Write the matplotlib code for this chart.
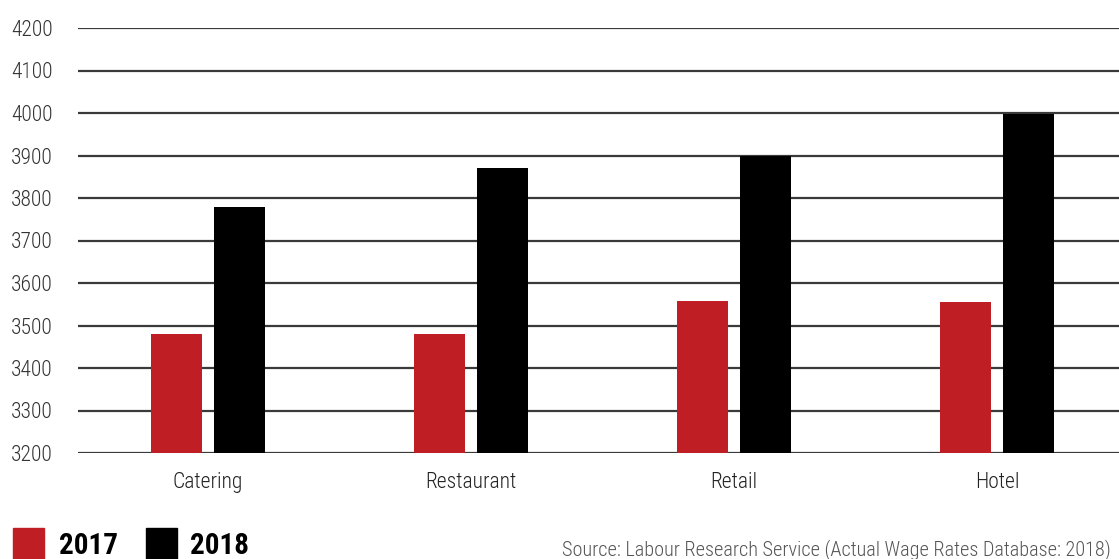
import matplotlib.pyplot as plt
import numpy as np
from matplotlib.patches import Rectangle

categories = ['Catering', 'Restaurant', 'Retail', 'Hotel']
wages_2017 = [3480, 3480, 3558, 3555]
wages_2018 = [3780, 3870, 3898, 3998]
years = ['2017', '2018']
colors = ['#be1e24', '#000000']
yticks = list(range(3200, 4201, 100))

plt.rcParams['font.family'] = ['Roboto Condensed', 'Roboto', 'DejaVu Sans']

fig = plt.figure(figsize=(11.19, 5.59), dpi=100)
W, H = 1119, 559
# axes in pixel coordinates: left 78, right 1127 (cut off), top 28, bottom 453
ax = fig.add_axes([78 / W, 1 - 453 / H, (1127 - 78) / W, (453 - 28) / H])

x = np.arange(len(categories))
bw = 0.194
off = 0.12
ax.bar(x - off, wages_2017, bw, color=colors[0], zorder=3)
ax.bar(x + off, wages_2018, bw, color=colors[1], zorder=3)

ax.set_ylim(3200, 4200)
ax.set_xlim(-0.494, 3.494)
ax.set_yticks(yticks)
ax.set_yticklabels([str(v) for v in yticks], fontsize=15.5, fontweight=300, color='#333333')
ax.set_xticks(x)
ax.set_xticklabels(categories, fontsize=15.5, fontweight=300, color='#222222')
ax.tick_params(axis='y', length=0, pad=18)
ax.tick_params(axis='x', length=0, pad=14)
for y in yticks:
    ax.axhline(y, color='#3a3a3a', lw=1.6, zorder=2)
for s in ax.spines.values():
    s.set_visible(False)
ax.set_facecolor('none')

# legend
for i, (yr, c) in enumerate(zip(years, colors)):
    x0 = [13, 146][i]
    fig.patches.append(Rectangle((x0 / W, 0), 31 / W, 31 / H, transform=fig.transFigure,
                                 color=c, figure=fig))
    fig.text([59, 190][i] / W, 1 - 554 / H, yr, fontsize=21, fontweight='bold',
             va='baseline', ha='left')

fig.text(562 / W, 1 - 555 / H,
         'Source: Labour Research Service (Actual Wage Rates Database: 2018)',
         fontsize=14.6, fontweight=300, color='#555555', va='baseline', ha='left')

fig.savefig('out.png', dpi=100)
